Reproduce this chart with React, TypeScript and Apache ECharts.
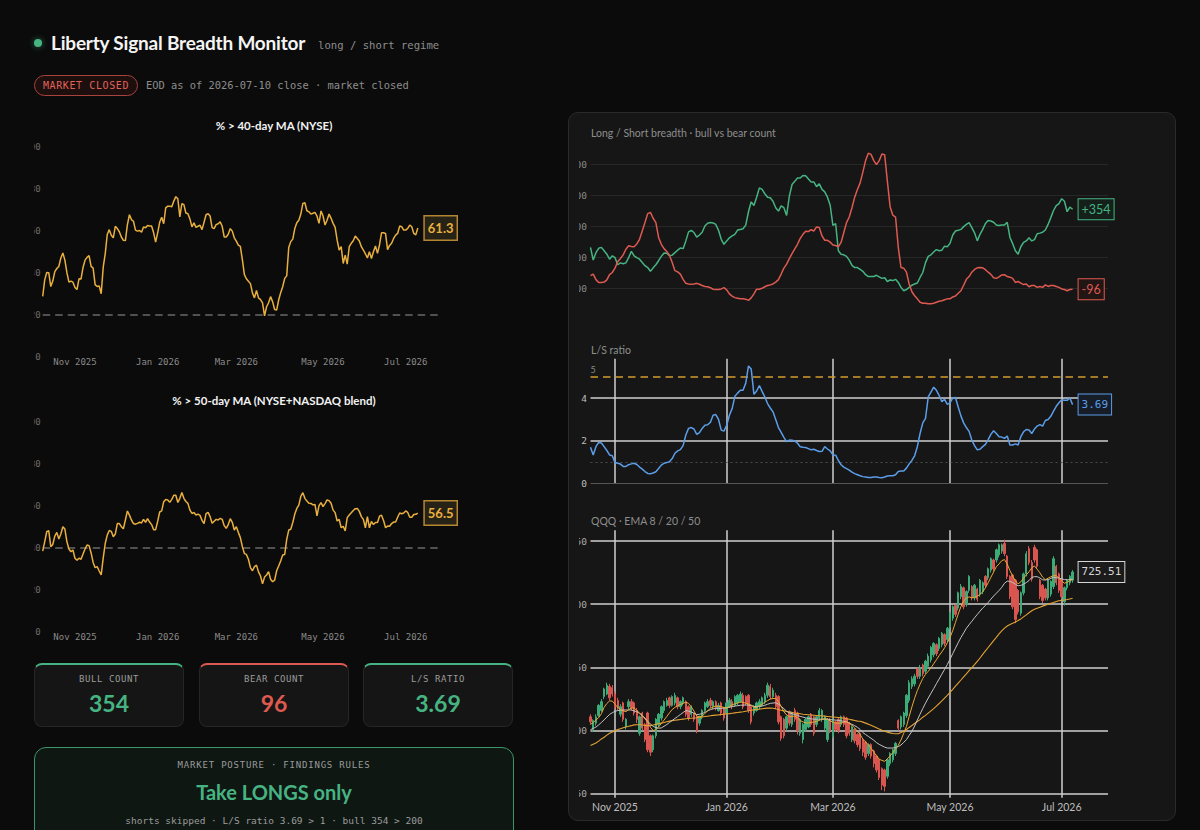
import React, { useEffect, useRef } from 'react';
import * as echarts from 'echarts';

const SANS = 'Lato, "Noto Sans", "DejaVu Sans", sans-serif';
const MONO = '"DejaVu Sans Mono", "Liberation Mono", monospace';

const GREEN = '#46b482';
const RED = '#de5a50';
const GOLD = '#e9b03f';
const BLUE = '#5b9de8';
const CANDLE_UP = '#3cab78';
const CANDLE_DOWN = '#d95650';

// NYSE closures inside the plotted window
const MARKET_HOLIDAYS = [
  '2025-11-27', '2025-12-25', '2026-01-01', '2026-01-19', '2026-02-16',
  '2026-04-03', '2026-05-25', '2026-06-19', '2026-07-03',
];
const MONTH_NAMES = ['Jan', 'Feb', 'Mar', 'Apr', 'May', 'Jun', 'Jul', 'Aug', 'Sep', 'Oct', 'Nov', 'Dec'];
const LABEL_MONTHS = ['2025-11', '2026-01', '2026-03', '2026-05', '2026-07'];

function tradingDays(start: string, count: number): string[] {
  const out: string[] = [];
  const d = new Date(start + 'T12:00:00Z');
  while (out.length < count) {
    const dow = d.getUTCDay();
    const iso = d.toISOString().slice(0, 10);
    if (dow !== 0 && dow !== 6 && !MARKET_HOLIDAYS.includes(iso)) out.push(iso);
    d.setUTCDate(d.getUTCDate() + 1);
  }
  return out;
}

// category axes keep a few sessions of head-room after the last close
const BREADTH_DAYS = tradingDays('2025-10-10', 198);
const PANEL_DAYS = tradingDays('2025-10-21', 191);

// % of NYSE stocks above their 40-day moving average
const PCT_ABOVE_40 = [
  28.7, 36.6, 40.1, 40, 33.4, 36, 40.5, 42, 43, 47,
  49.4, 46, 40, 35.5, 36, 35.5, 33, 32, 37.1, 37,
  42.5, 46, 47.3, 48.1, 43, 42.2, 34.3, 33.4, 33.7, 30,
  42.5, 49, 58.2, 60.5, 57.8, 56.6, 62.1, 61, 59.5, 57,
  55.4, 55.3, 62.9, 67.6, 65.3, 64.5, 60.3, 59.8, 60.1, 59.3,
  61.8, 61.4, 62.5, 62.2, 62.2, 59, 54.6, 59, 64, 66.4,
  63.3, 70.9, 71.7, 71.7, 71.4, 74.1, 76.2, 75.2, 66.6, 72.9,
  72.4, 68.4, 68.1, 65.6, 61.8, 63.7, 61.6, 62.1, 62.6, 60.5,
  64, 67.6, 68.1, 67, 61.5, 61, 62.9, 63.3, 64.2, 62.1,
  57, 57, 58.3, 61, 59.8, 56.6, 55, 53.1, 52.5, 46.2,
  39.1, 37.1, 35.9, 34.8, 30.4, 28, 31.5, 28, 27.2, 25.6,
  19.4, 23.8, 25.7, 28.6, 26.2, 22.5, 22.2, 27, 30.5, 33.3,
  37.3, 38.5, 52, 54.8, 56, 61, 63.8, 65, 67.9, 73,
  73.3, 69.5, 69, 67.9, 68.3, 68.7, 67, 63.5, 69.4, 67,
  62.7, 65, 67.9, 65.9, 63.5, 61.6, 55.5, 50.8, 52.4, 44.4,
  48.4, 44.1, 52.4, 54, 55.2, 57.5, 56.3, 55.1, 52.4, 50.8,
  49, 47, 50, 46.8, 50, 52.7, 49.2, 53.2, 59, 59,
  58.7, 51, 53, 54, 56.3, 57.9, 58.7, 62.2, 61.9, 60.3,
  60.3, 61.1, 62.7, 61.9, 58.7, 58, 61.3,
];

// % of NYSE+NASDAQ stocks above their 50-day moving average
const PCT_ABOVE_50 = [
  38.4, 42.9, 47.6, 48.1, 40.5, 41.5, 45.5, 47.3, 44.1, 46.5,
  50, 48.9, 42.9, 39.4, 38.1, 38.9, 35, 34, 35, 34.5,
  37, 39.4, 41.3, 41, 37.5, 33, 30.5, 31, 28.9, 27,
  35, 42, 46, 48.2, 47.8, 45.2, 46.5, 51.5, 51.5, 50,
  49, 53.2, 57.5, 55.5, 53.2, 51.5, 51.2, 51.6, 52.1, 51.8,
  53.5, 52.1, 53.8, 52.2, 51, 48.5, 48.6, 52.5, 57, 57.5,
  61.9, 63, 62.7, 61.6, 63, 65, 65, 61.5, 63.5, 66.3,
  63.5, 62, 61.1, 57.9, 56.3, 56.8, 55.6, 56, 55.4, 53,
  51.5, 56.2, 56.8, 54.8, 51.6, 52.6, 53.5, 53.2, 54, 53.5,
  50.5, 49.2, 51, 53.8, 52.1, 48.4, 50, 47.3, 44.8, 40.5,
  37.2, 36.8, 34.5, 30.5, 29, 31, 31.7, 28.5, 26.5, 22.8,
  26, 27, 28.6, 25, 23.8, 24.5, 29, 31.3, 33.7, 36.5,
  36.8, 44, 48.4, 48.8, 52, 56, 58.7, 60.3, 64.5, 66.2,
  63.5, 62.2, 61.2, 61.1, 60.4, 60.6, 55.2, 60, 61.5, 59.6,
  61, 62.8, 62.4, 61.2, 57.9, 56.7, 52.7, 53.5, 49.5, 50.2,
  48, 54.3, 55.6, 56.6, 57.7, 58.6, 58.7, 57.3, 54.8, 53.5,
  49.5, 54.8, 49.5, 52.5, 51, 52, 52, 55, 55.5, 53,
  49.5, 50.3, 50.2, 51.5, 52.2, 52.2, 54.5, 56.5, 56.2, 56.5,
  57.5, 56.8, 54.5, 54.5, 55.8, 55.9, 56.5,
];

// long-setup (bull) and short-setup (bear) counts
const BULL_COUNT = [
  231, 190, 214, 228, 231, 220, 209, 193, 204, 198,
  175, 181, 178, 181, 198, 218, 204, 198, 193, 182,
  172, 166, 154, 165, 175, 188, 202, 213, 212, 204,
  206, 214, 222, 229, 227, 252, 281, 286, 279, 264,
  271, 280, 300, 309, 311, 310, 305, 286, 257, 241,
  252, 262, 268, 273, 287, 289, 291, 303, 346, 378,
  366, 393, 423, 418, 404, 393, 391, 380, 359, 348,
  365, 359, 334, 396, 434, 444, 455, 455, 463, 462,
  452, 442, 442, 427, 436, 418, 410, 393, 367, 302,
  308, 220, 209, 207, 202, 190, 173, 166, 166, 160,
  154, 143, 137, 137, 137, 141, 136, 131, 133, 121,
  126, 124, 128, 118, 102, 91, 95, 102, 109, 113,
  116, 134, 150, 182, 202, 207, 216, 224, 220, 222,
  235, 233, 244, 271, 284, 286, 289, 298, 305, 311,
  295, 278, 252, 273, 289, 308, 318, 316, 312, 303,
  302, 303, 303, 312, 263, 243, 220, 209, 233, 247,
  252, 262, 252, 256, 275, 277, 280, 287, 305, 327,
  350, 366, 372, 388, 380, 346, 361, 354,
];

const BEAR_COUNT = [
  140, 145, 127, 118, 118, 119, 126, 143, 150, 164,
  185, 195, 207, 225, 236, 234, 233, 242, 257, 284,
  311, 340, 344, 325, 311, 263, 241, 227, 218, 206,
  182, 156, 152, 145, 128, 115, 113, 112, 113, 115,
  112, 108, 105, 104, 101, 96, 95, 95, 97, 101,
  94, 81, 74, 69, 67, 65, 65, 64, 60, 68,
  81, 96, 96, 99, 104, 108, 110, 113, 119, 127,
  145, 164, 177, 195, 211, 226, 241, 260, 273, 283,
  282, 288, 284, 297, 295, 268, 254, 254, 248, 239,
  237, 233, 247, 279, 311, 329, 359, 393, 418, 439,
  474, 511, 535, 531, 511, 498, 511, 532, 530, 444,
  362, 335, 329, 231, 166, 164, 151, 113, 88, 75,
  65, 54, 51, 51, 49, 49, 51, 54, 57, 59,
  62, 65, 65, 71, 74, 83, 91, 109, 128, 137,
  151, 160, 165, 166, 165, 159, 151, 144, 133, 131,
  136, 142, 143, 137, 135, 131, 118, 121, 116, 111,
  113, 104, 108, 108, 102, 105, 102, 110, 105, 108,
  108, 105, 102, 97, 95, 91, 95, 96,
];

const LS_RATIO = [
  1.68, 1.32, 1.71, 1.91, 1.88, 1.71, 1.53, 1.32, 1.28, 0.96,
  0.93, 0.89, 0.78, 0.78, 0.86, 0.9, 0.93, 0.87, 0.75, 0.65,
  0.54, 0.45, 0.44, 0.47, 0.53, 0.68, 0.84, 0.93, 0.96, 1.0,
  1.15, 1.4, 1.51, 1.57, 1.76, 2.26, 2.57, 2.61, 2.54, 2.29,
  2.37, 2.57, 2.72, 2.74, 2.85, 3.19, 3.22, 2.99, 2.49, 2.44,
  2.72, 3.19, 3.5, 4.08, 4.23, 4.37, 4.36, 4.7, 5.51, 5.37,
  4.17, 4.33, 4.59, 4.31, 4.05, 3.74, 3.53, 3.35, 2.99, 2.61,
  2.38, 2.15, 1.95, 2.02, 2.01, 1.98, 1.87, 1.71, 1.68, 1.67,
  1.62, 1.56, 1.59, 1.53, 1.48, 1.49, 1.71, 1.6, 1.51, 1.32,
  1.31, 1.06, 0.86, 0.75, 0.68, 0.61, 0.51, 0.44, 0.39, 0.34,
  0.3, 0.28, 0.26, 0.26, 0.28, 0.28, 0.26, 0.25, 0.28, 0.33,
  0.34, 0.34, 0.39, 0.54, 0.56, 0.56, 0.7, 0.9, 1.06, 1.28,
  1.71, 2.33, 2.83, 3.04, 4.05, 4.28, 4.51, 4.36, 4.12, 3.83,
  3.94, 3.7, 3.77, 4.0, 4.02, 3.58, 3.16, 2.83, 2.61, 2.43,
  2.02, 1.76, 1.56, 1.59, 1.71, 1.82, 2.04, 2.29, 2.46, 2.33,
  2.18, 2.16, 2.1, 2.21, 1.79, 1.79, 1.84, 1.79, 2.18, 2.41,
  2.52, 2.49, 2.33, 2.54, 2.68, 2.75, 2.68, 2.94, 2.99, 3.14,
  3.38, 3.61, 3.78, 3.92, 3.89, 3.89, 4.0, 3.69,
];

// QQQ daily bars: [open, close, low, high]
const QQQ_OHLC = [
  [611, 607, 605, 613], [601, 608, 599, 609], [606, 611, 604, 613], [612, 620, 611, 621], [616, 623, 615, 625],
  [627, 633, 625, 634], [629, 636, 628, 638], [635, 626, 624, 637], [634, 629, 627, 636], [629, 619, 617, 631],
  [624, 618, 616, 626], [613, 619, 611, 621], [622, 609, 607, 623], [603, 609, 601, 610], [619, 623, 617, 625],
  [623, 618, 616, 625], [622, 614, 612, 623], [616, 609, 606, 618], [598, 611, 596, 612], [614, 602, 600, 615],
  [605, 593, 591, 606], [614, 585, 583, 615], [596, 583, 580, 597], [585, 596, 583, 597], [596, 609, 594, 610],
  [605, 613, 603, 614], [610, 619, 608, 620], [616, 623, 614, 624], [620, 624, 619, 626], [626, 620, 618, 627],
  [620, 627, 619, 628], [622, 628, 620, 630], [626, 619, 617, 627], [619, 623, 617, 624], [622, 626, 620, 627],
  [623, 613, 611, 624], [619, 610, 608, 620], [613, 619, 611, 620], [613, 609, 607, 614], [611, 600, 598, 612],
  [606, 611, 604, 612], [611, 616, 609, 617], [616, 622, 615, 623], [619, 623, 618, 625], [624, 620, 618, 626],
  [619, 623, 617, 624], [623, 618, 616, 624], [616, 620, 615, 622], [622, 614, 612, 623], [618, 610, 608, 619],
  [614, 622, 612, 623], [619, 624, 618, 626], [623, 619, 617, 625], [620, 627, 619, 628], [622, 628, 620, 629],
  [623, 629, 622, 631], [628, 619, 617, 630], [627, 622, 620, 628], [628, 616, 614, 629], [619, 607, 605, 620],
  [614, 619, 612, 620], [616, 622, 615, 623], [619, 623, 617, 625], [620, 626, 619, 627], [623, 628, 621, 630],
  [628, 636, 626, 638], [635, 627, 625, 637], [627, 632, 626, 634], [628, 619, 617, 630], [627, 607, 605, 628],
  [611, 594, 592, 612], [609, 596, 594, 610], [602, 611, 600, 612], [615, 606, 604, 616], [605, 614, 603, 615],
  [616, 609, 607, 618], [614, 600, 597, 615], [598, 609, 596, 610], [593, 605, 590, 606], [601, 609, 599, 610],
  [603, 611, 602, 612], [613, 605, 603, 614], [611, 598, 596, 612], [605, 611, 603, 612], [610, 616, 608, 618],
  [609, 616, 607, 617], [602, 611, 600, 612], [593, 609, 591, 610], [609, 600, 598, 610], [596, 609, 594, 610],
  [607, 601, 599, 608], [609, 600, 598, 610], [605, 611, 603, 612], [611, 605, 603, 612], [610, 596, 594, 611],
  [606, 598, 596, 607], [593, 603, 591, 604], [601, 592, 590, 602], [597, 589, 587, 598], [598, 586, 584, 599],
  [593, 583, 580, 594], [591, 579, 577, 592], [582, 589, 580, 590], [589, 580, 578, 590], [584, 574, 571, 585],
  [580, 569, 567, 581], [577, 563, 561, 578], [570, 557, 553, 571], [569, 556, 552, 570], [564, 577, 562, 578],
  [574, 582, 572, 583], [577, 585, 575, 586], [582, 590, 580, 591], [608, 602, 600, 609], [603, 611, 601, 612],
  [605, 614, 603, 615], [612, 628, 610, 629], [624, 638, 622, 640], [635, 641, 633, 643], [637, 643, 635, 645],
  [649, 643, 641, 650], [643, 650, 641, 652], [652, 645, 643, 653], [647, 655, 645, 656], [651, 659, 649, 661],
  [656, 666, 654, 667], [660, 669, 658, 670], [668, 661, 659, 669], [665, 673, 663, 674], [668, 677, 666, 678],
  [676, 669, 667, 677], [672, 681, 670, 682], [682, 693, 680, 694], [689, 698, 687, 699], [699, 692, 690, 700],
  [697, 709, 695, 710], [706, 714, 704, 716], [713, 698, 696, 714], [700, 710, 698, 711], [711, 722, 709, 723],
  [714, 705, 703, 715], [705, 715, 703, 716], [712, 704, 702, 713], [708, 719, 706, 720], [710, 717, 708, 718],
  [722, 715, 713, 723], [721, 728, 719, 729], [727, 736, 725, 737], [735, 728, 726, 736], [735, 743, 733, 744],
  [739, 747, 737, 748], [742, 747, 740, 748], [748, 740, 738, 751], [738, 722, 720, 739], [722, 706, 704, 723],
  [723, 698, 696, 724], [719, 688, 685, 720], [711, 694, 692, 712], [693, 709, 691, 710], [709, 724, 707, 725],
  [724, 740, 722, 742], [744, 733, 731, 746], [733, 720, 718, 735], [745, 735, 733, 747], [743, 730, 728, 744],
  [719, 706, 704, 720], [715, 703, 701, 716], [712, 705, 703, 713], [705, 719, 703, 720], [708, 718, 706, 719],
  [714, 736, 712, 738], [730, 717, 715, 731], [724, 711, 709, 725], [719, 706, 704, 720], [702, 713, 699, 714],
  [713, 719, 711, 720], [717, 722, 715, 723], [719, 725.51, 717, 727],
];

const QQQ_EMA8 = [
  605, 606.5, 608.5, 610.3, 613.5, 618.5, 621.5, 623.6, 623.4, 621,
  618.4, 616.7, 615.7, 615.1, 616.6, 618, 618, 616, 614, 612,
  609.3, 606.8, 602.8, 600, 600.8, 603, 605.7, 608.4, 611.2, 614.2,
  616.8, 618.5, 619.8, 620.7, 621.6, 622.6, 621.6, 618.9, 615.5, 611.6,
  611, 611.5, 613.7, 615.7, 617.7, 618.8, 619.4, 619.3, 619, 618.3,
  617.8, 619.2, 620.5, 621.2, 621.9, 622.7, 622.4, 621.8, 621, 620.3,
  618.6, 618.4, 619.7, 621.1, 622.5, 623.8, 625, 625.5, 625.5, 623.2,
  619.2, 615.1, 612.4, 611.1, 611.3, 611.6, 610.1, 608, 607, 606.1,
  606.2, 606.5, 606.9, 607.4, 608.2, 609.1, 609.6, 609.2, 607.7, 606.8,
  606, 606, 606, 606.8, 607.1, 605.8, 604.3, 602.2, 599.4, 597,
  593.4, 591.2, 588.8, 586.2, 583, 580.2, 577.5, 576.5, 575.8, 577.8,
  580, 582.7, 585.5, 588.5, 592.7, 598, 603.4, 611.3, 618.8, 625.7,
  631.7, 636.8, 641.3, 644.6, 647, 649.7, 652.9, 656.1, 659.4, 662.3,
  665.6, 669.5, 673.7, 679.2, 685.7, 692.2, 698.1, 702.6, 704.7, 705.8,
  705.1, 705.4, 706.4, 707.7, 709.8, 713, 717, 721.3, 725.5, 729.7,
  731.9, 734.5, 735.3, 731.8, 726.6, 722.1, 718.4, 716.1, 717.7, 720.6,
  723.2, 725.7, 728.7, 730.3, 727.7, 724.8, 721.4, 719.4, 720.6, 721.7,
  722.6, 722.6, 720.6, 718.5, 716.6, 717.4, 718.6, 719.8,
];

const QQQ_EMA20 = [
  600.8, 601.8, 602.9, 604.6, 606.5, 608.6, 610.7, 612.9, 614.2, 615.4,
  615.9, 616.2, 616.4, 616.4, 616.4, 616.4, 615.7, 615, 613.7, 612,
  610, 607.5, 605.2, 603.5, 602.4, 602, 602.2, 603.5, 604.9, 606.5,
  608.1, 609.7, 611.2, 612.8, 614.4, 615.9, 615.5, 614.8, 613.8, 612.7,
  613, 613.5, 614.6, 615.7, 616.6, 617.3, 617.7, 617.7, 617.7, 617.9,
  618.2, 618.6, 619, 619.5, 619.8, 620.1, 620.3, 620.3, 620.3, 619.9,
  619.3, 619.1, 619.3, 619.5, 620.1, 620.9, 621.6, 621.9, 622.1, 621,
  619.3, 617.4, 615.4, 614.2, 613.5, 612.8, 612.1, 611.3, 610.8, 610.2,
  609.7, 609.4, 609.1, 609.1, 609.1, 609.1, 609.1, 609.1, 608.8, 608.6,
  608.4, 608.2, 607.8, 607.4, 607.1, 606, 605, 604, 602.7, 601,
  598.5, 597, 595.5, 594, 592.5, 590.6, 589.2, 588.1, 587, 586.3,
  586.3, 586.3, 586.8, 587.4, 588.7, 590.8, 592.9, 596.3, 599.5, 603.7,
  608.5, 613.1, 617.6, 621.8, 625.8, 629.6, 633.3, 637.2, 640.9, 644.7,
  648.5, 652.3, 656.5, 661, 665.3, 669.6, 673.7, 677.3, 681, 683.8,
  686.5, 689.3, 691.9, 694.5, 697, 699, 701.4, 704, 706.5, 708.7,
  710.9, 713.4, 716.6, 718.3, 718.1, 717.2, 715.8, 714.6, 714.9, 715.9,
  717.1, 718.7, 721.2, 721.8, 721.8, 720.8, 719.3, 719.2, 719.4, 720.4,
  721.3, 721, 720.6, 720.1, 719.5, 719.3, 719.5, 719.7,
];

const QQQ_EMA50 = [
  588.3, 589.3, 590.3, 591.8, 593.5, 594.8, 596.5, 598, 599, 600,
  600.9, 601.6, 602.3, 603, 603.5, 604, 604.6, 604.7, 604.7, 604.5,
  604.2, 604, 604.2, 604.5, 605, 605.5, 606, 606.5, 607.1, 607.6,
  608, 608.3, 608.6, 608.9, 609.2, 609.5, 609.7, 609.9, 610.1, 610.3,
  610.6, 610.9, 611.2, 611.5, 611.8, 612.1, 612.3, 612.5, 612.8, 613.1,
  613.3, 613.5, 613.8, 614.1, 614.4, 614.7, 615, 615.4, 615.8, 616.2,
  616.5, 616.8, 617.1, 617.4, 617.7, 617.9, 618, 617.8, 617.3, 616.8,
  616.2, 615.7, 615.2, 614.8, 614.4, 614, 613.7, 613.4, 613, 612.8,
  612.6, 612.4, 612.2, 612, 611.8, 611.7, 611.5, 611.3, 611.1, 610.9,
  610.7, 610.5, 610.2, 609.9, 609.5, 609, 608.6, 608.1, 607.6, 607.5,
  606.8, 606, 605.2, 604.3, 603.3, 602.3, 601.3, 600.4, 599.6, 598.9,
  598.3, 597.8, 597.6, 597.6, 598.5, 599.6, 601, 602.6, 604.1, 605.7,
  607.3, 608.8, 610.7, 612.1, 613.9, 615.7, 617.5, 619.5, 621.5, 623.6,
  625.8, 628, 630.3, 632.7, 635.2, 637.7, 640.1, 642.6, 645, 647.5,
  649.8, 652.3, 654.9, 657.5, 660.4, 663.1, 665.8, 668.5, 671.2, 673.8,
  676.5, 678.9, 681.1, 682.8, 683.9, 684.9, 686, 687.1, 688.4, 690,
  691.6, 693.3, 694.8, 696, 696.9, 697.7, 698.5, 699.3, 700, 700.8,
  701.3, 702.1, 702.8, 703.1, 703.3, 703.7, 704.2, 704.7,
];

// reference levels
const PCT40_FLOOR = 20;
const PCT50_FLOOR = 40;
const BREADTH_GRID = [100, 200, 300, 400, 500];
const RATIO_GRID = [2, 4];
const RATIO_NEUTRAL = 1;
const RATIO_EXTREME = 5;
const QQQ_GRID = [550, 600, 650, 700, 750];
const BULL_THRESHOLD = 200;

const last = <T,>(a: T[]): T => a[a.length - 1];
const lastBull = last(BULL_COUNT);
const lastBear = last(BEAR_COUNT);
const lastRatio = last(LS_RATIO);

function monthTick(days: string[]) {
  return (idx: number) => {
    const d = days[idx];
    if (!d || idx === 0) return false;
    const ym = d.slice(0, 7);
    return LABEL_MONTHS.includes(ym) && days[idx - 1].slice(0, 7) !== ym;
  };
}

function monthLabel(v: string) {
  const [y, m] = v.split('-');
  return `${MONTH_NAMES[Number(m) - 1]} ${y}`;
}

function hLines(values: number[], lineStyle: any) {
  return values.map((v) => ({ yAxis: v, lineStyle }));
}

// grids are placed exactly; y-axis labels are allowed to run off the left edge
const gridBox = (left: number, top: number, width: number, height: number) => ({
  left, top, width, height, containLabel: false, outerBoundsMode: 'none',
});

function breadthOption(): any {
  const tick = monthTick(BREADTH_DAYS);
  const xAxis = (gi: number) => ({
    type: 'category', gridIndex: gi, data: BREADTH_DAYS, boundaryGap: false,
    axisLine: { show: false }, axisTick: { show: false }, splitLine: { show: false },
    axisLabel: { interval: tick, formatter: monthLabel, color: '#8a8a8a', fontFamily: MONO, fontSize: 9, margin: 1 },
  });
  const yAxis = (gi: number) => ({
    type: 'value', gridIndex: gi, min: 0, max: 100, interval: 20,
    axisLine: { show: false }, axisTick: { show: false }, splitLine: { show: false },
    axisLabel: { color: '#6c6c6c', fontFamily: MONO, fontSize: 9, margin: 2 },
  });
  const endBox = {
    show: true, formatter: (p: any) => String(p.value), distance: 7,
    color: GOLD, fontFamily: SANS, fontWeight: 'bold', fontSize: 13, lineHeight: 15,
    backgroundColor: '#272216', borderColor: '#b48632', borderWidth: 1.5, padding: [4, 3, 4, 3],
  };
  const floorLine = (v: number) => ({
    silent: true, symbol: ['none', 'none'], label: { show: false }, z: 1,
    lineStyle: { color: '#6a6a6a', width: 1.5, type: [7.5, 5] },
    data: [{ yAxis: v }],
  });
  const titleStyle = { color: '#f2f2f2', fontFamily: SANS, fontSize: 11.5, fontWeight: 'bold' };
  return {
    animation: false,
    title: [
      { text: '% > 40-day MA (NYSE)', left: 'center', top: 9, padding: 0, textStyle: titleStyle },
      { text: '% > 50-day MA (NYSE+NASDAQ blend)', left: 'center', top: 284, padding: 0, textStyle: titleStyle },
    ],
    grid: [gridBox(8.7, 36.7, 397.3, 210), gridBox(8.7, 311.7, 397.3, 210)],
    xAxis: [xAxis(0), xAxis(1)],
    yAxis: [yAxis(0), yAxis(1)],
    series: [
      {
        type: 'line', xAxisIndex: 0, yAxisIndex: 0, data: PCT_ABOVE_40, showSymbol: false, silent: true,
        lineStyle: { color: GOLD, width: 1.5 }, itemStyle: { color: GOLD },
        endLabel: endBox, markLine: floorLine(PCT40_FLOOR),
      },
      {
        type: 'line', xAxisIndex: 1, yAxisIndex: 1, data: PCT_ABOVE_50, showSymbol: false, silent: true,
        lineStyle: { color: GOLD, width: 1.5 }, itemStyle: { color: GOLD },
        endLabel: endBox, markLine: floorLine(PCT50_FLOOR),
      },
    ],
  };
}

function panelOption(): any {
  const tick = monthTick(PANEL_DAYS);
  const gridLine = { color: '#cfcfcf', width: 1.5 };
  const xAxis = (gi: number) => ({
    type: 'category', gridIndex: gi, data: PANEL_DAYS, boundaryGap: false,
    axisLine: { show: false }, axisTick: { show: false },
    splitLine: gi === 0 ? { show: false } : { show: true, interval: tick, lineStyle: gridLine },
    axisLabel: gi === 2
      ? { show: true, interval: tick, formatter: monthLabel, color: '#bdbdbd', fontFamily: SANS, fontSize: 10.5, margin: 4 }
      : { show: false },
  });
  const yBase = {
    type: 'value', axisLine: { show: false }, axisTick: { show: false }, splitLine: { show: false },
  };
  const marker = (data: any[]) => ({
    silent: true, symbol: ['none', 'none'], z: 1, label: { show: false }, data,
  });
  const box = (color: string, bg: string, font: string, size: number, fmt: (p: any) => string) => ({
    show: true, formatter: fmt, distance: 6, color, fontFamily: font, fontSize: size, lineHeight: 14,
    backgroundColor: bg, borderColor: color, borderWidth: 1, padding: [3, 3, 3, 3],
  });
  const titleStyle = { color: '#8e8e8e', fontFamily: SANS, fontSize: 10.5, fontWeight: 'normal' };
  return {
    animation: false,
    title: [
      { text: 'Long / Short breadth · bull vs bear count', left: 12, top: 7.5, padding: 0, textStyle: titleStyle },
      { text: 'L/S ratio', left: 12, top: 224.5, padding: 0, textStyle: titleStyle },
      { text: 'QQQ · EMA 8 / 20 / 50', left: 12, top: 395.5, padding: 0, textStyle: titleStyle },
    ],
    grid: [
      gridBox(11.5, 25.4, 517.5, 173.6),
      gridBox(11.5, 238.7, 517.5, 124.3),
      gridBox(11.5, 410.25, 517.5, 267.5),
    ],
    xAxis: [xAxis(0), xAxis(1), xAxis(2)],
    yAxis: [
      {
        ...yBase, gridIndex: 0, min: 0, max: 560, interval: 100,
        axisLabel: {
          formatter: (v: number) => (v >= 100 && v <= 500 ? String(v) : ''),
          color: '#8a8a8a', fontFamily: MONO, fontSize: 9.5, margin: 3.5,
        },
      },
      {
        ...yBase, gridIndex: 1, min: 0, max: 5.85, interval: 2,
        axisLabel: {
          formatter: (v: number) => (v <= 4 ? String(v) : ''),
          color: '#bdbdbd', fontFamily: MONO, fontSize: 9.5, margin: 3.5,
        },
      },
      {
        ...yBase, gridIndex: 2, min: 547, max: 758.5,
        axisLabel: {
          formatter: (v: number) => (v % 50 === 0 ? String(v) : ''),
          color: '#aaaaaa', fontFamily: MONO, fontSize: 9.5, margin: 3.5,
        },
      },
    ],
    series: [
      {
        name: 'Bull', type: 'line', xAxisIndex: 0, yAxisIndex: 0, data: BULL_COUNT,
        showSymbol: false, silent: true, lineStyle: { color: GREEN, width: 1.5 }, itemStyle: { color: GREEN },
        endLabel: box(GREEN, '#15201a', SANS, 12.5, (p) => `+${p.value}`),
        markLine: marker(hLines(BREADTH_GRID, { color: '#272727', width: 1, type: 'solid' })),
      },
      {
        name: 'Bear', type: 'line', xAxisIndex: 0, yAxisIndex: 0, data: BEAR_COUNT,
        showSymbol: false, silent: true, lineStyle: { color: RED, width: 1.5 }, itemStyle: { color: RED },
        endLabel: box(RED, '#221615', SANS, 12.5, (p) => `-${p.value}`),
      },
      {
        name: 'L/S ratio', type: 'line', xAxisIndex: 1, yAxisIndex: 1, data: LS_RATIO,
        showSymbol: false, silent: true, lineStyle: { color: BLUE, width: 1.5 }, itemStyle: { color: BLUE },
        endLabel: box(BLUE, '#161d27', MONO, 11, (p) => Number(p.value).toFixed(2)),
        markLine: marker([
          { yAxis: 0, lineStyle: { color: '#555555', width: 1, type: 'solid' } },
          { yAxis: RATIO_NEUTRAL, lineStyle: { color: '#4a4a4a', width: 1, type: [2, 3] } },
          ...hLines(RATIO_GRID, { ...gridLine, type: 'solid' }),
          {
            yAxis: RATIO_EXTREME, lineStyle: { color: '#d39a2e', width: 1.5, type: [7.5, 5] },
            label: {
              show: true, position: 'insideStartTop', formatter: String(RATIO_EXTREME), distance: [0, 3],
              color: '#8a8a8a', fontFamily: SANS, fontSize: 9,
            },
          },
        ]),
      },
      {
        name: 'QQQ', type: 'candlestick', xAxisIndex: 2, yAxisIndex: 2, data: QQQ_OHLC, silent: true,
        barWidth: '70%',
        itemStyle: { color: CANDLE_UP, color0: CANDLE_DOWN, borderColor: CANDLE_UP, borderColor0: CANDLE_DOWN, borderWidth: 1 },
        markLine: marker(hLines(QQQ_GRID, { ...gridLine, type: 'solid' })),
      },
      {
        name: 'EMA 50', type: 'line', xAxisIndex: 2, yAxisIndex: 2, data: QQQ_EMA50, z: 3,
        showSymbol: false, silent: true, lineStyle: { color: '#e2a233', width: 1.1 },
      },
      {
        name: 'EMA 20', type: 'line', xAxisIndex: 2, yAxisIndex: 2, data: QQQ_EMA20, z: 3,
        showSymbol: false, silent: true, lineStyle: { color: '#c4c4c4', width: 1 },
      },
      {
        name: 'EMA 8', type: 'line', xAxisIndex: 2, yAxisIndex: 2, data: QQQ_EMA8, z: 3,
        showSymbol: false, silent: true, lineStyle: { color: '#e8a935', width: 1 },
      },
      {
        name: 'Last', type: 'line', xAxisIndex: 2, yAxisIndex: 2, data: QQQ_OHLC.map((d) => d[1]), z: 4,
        showSymbol: false, silent: true, lineStyle: { color: 'rgba(0,0,0,0)', width: 1 },
        endLabel: box('#d6d6d6', '#1b1b1b', MONO, 11, (p) => Number(p.value).toFixed(2)),
      },
    ],
  };
}

function EChart({ option, style }: { option: any; style: React.CSSProperties }) {
  const ref = useRef<HTMLDivElement>(null);
  useEffect(() => {
    if (!ref.current) return;
    const chart = echarts.init(ref.current, null, { renderer: 'svg' });
    chart.setOption(option);
    return () => chart.dispose();
  }, [option]);
  return <div ref={ref} style={{ position: 'absolute', overflow: 'hidden', ...style }} />;
}

const STAT_CARDS = [
  { label: 'BULL COUNT', value: String(lastBull), color: GREEN, left: 34, width: 150 },
  { label: 'BEAR COUNT', value: String(lastBear), color: RED, left: 199, width: 150 },
  { label: 'L/S RATIO', value: lastRatio.toFixed(2), color: GREEN, left: 363, width: 150 },
];

const BREADTH_OPTION = breadthOption();
const PANEL_OPTION = panelOption();

export default function App() {
  const abs: React.CSSProperties = { position: 'absolute' };
  return (
    <div style={{ position: 'fixed', inset: 0, background: '#0b0b0b', overflow: 'hidden', fontFamily: SANS }}>
      <div style={{ ...abs, left: 34, top: 39, width: 8, height: 8, borderRadius: '50%', background: GREEN, boxShadow: '0 0 6px rgba(70,180,130,0.55)' }} />
      <div style={{ ...abs, left: 51, top: 31, fontSize: 19, lineHeight: '24px', fontWeight: 700, color: '#f4f4f4', letterSpacing: -0.2, whiteSpace: 'nowrap' }}>
        Liberty Signal Breadth Monitor
      </div>
      <div style={{ ...abs, left: 318, top: 38, fontFamily: MONO, fontSize: 10.6, lineHeight: '14px', color: '#8d8d8d', whiteSpace: 'nowrap' }}>
        long / short regime
      </div>
      <div style={{ ...abs, left: 34, top: 75, width: 104, height: 21, boxSizing: 'border-box', border: '1px solid #a9443d', borderRadius: 11, background: '#1c0f0e', color: '#e2625a', fontFamily: MONO, fontSize: 10, letterSpacing: 0.6, display: 'flex', alignItems: 'center', justifyContent: 'center', whiteSpace: 'nowrap' }}>
        MARKET CLOSED
      </div>
      <div style={{ ...abs, left: 146, top: 78, fontFamily: MONO, fontSize: 10.4, lineHeight: '14px', color: '#8d8d8d', whiteSpace: 'nowrap' }}>
        EOD as of 2026-07-10 close · market closed
      </div>

      <EChart option={BREADTH_OPTION} style={{ left: 34, top: 110, width: 480, height: 540 }} />

      {STAT_CARDS.map((c) => (
        <div key={c.label} style={{ ...abs, left: c.left, top: 663, width: c.width, height: 64, boxSizing: 'border-box', background: '#151515', border: '1px solid #262626', borderTop: `2px solid ${c.color}`, borderRadius: 8 }}>
          <div style={{ ...abs, left: 0, right: 0, top: 8, textAlign: 'center', fontFamily: MONO, fontSize: 9, lineHeight: '12px', letterSpacing: 0.6, color: '#9b9b9b' }}>{c.label}</div>
          <div style={{ ...abs, left: 0, right: 0, top: 25, textAlign: 'center', fontSize: 23, lineHeight: '26px', fontWeight: 700, color: c.color }}>{c.value}</div>
        </div>
      ))}

      <div style={{ ...abs, left: 34, top: 747, width: 480, height: 120, boxSizing: 'border-box', border: '1px solid #3b946a', borderRadius: 12, background: '#0f1713' }}>
        <div style={{ ...abs, left: 0, right: 0, top: 11, textAlign: 'center', fontFamily: MONO, fontSize: 9, lineHeight: '12px', letterSpacing: 0.8, color: '#9b9b9b' }}>
          MARKET POSTURE · FINDINGS RULES
        </div>
        <div style={{ ...abs, left: 0, right: 0, top: 32, textAlign: 'center', fontSize: 20, lineHeight: '24px', fontWeight: 700, color: GREEN }}>
          Take LONGS only
        </div>
        <div style={{ ...abs, left: 0, right: 0, top: 66, textAlign: 'center', fontFamily: MONO, fontSize: 9.5, lineHeight: '13px', color: '#9b9b9b' }}>
          {`shorts skipped · L/S ratio ${lastRatio.toFixed(2)} > ${RATIO_NEUTRAL} · bull ${lastBull} > ${BULL_THRESHOLD}`}
        </div>
      </div>

      <div style={{ ...abs, left: 568, top: 112, width: 608, height: 709, boxSizing: 'border-box', background: '#161616', border: '1px solid #2a2a2a', borderRadius: 10 }} />
      <EChart option={PANEL_OPTION} style={{ left: 579, top: 120, width: 590, height: 698 }} />
    </div>
  );
}
